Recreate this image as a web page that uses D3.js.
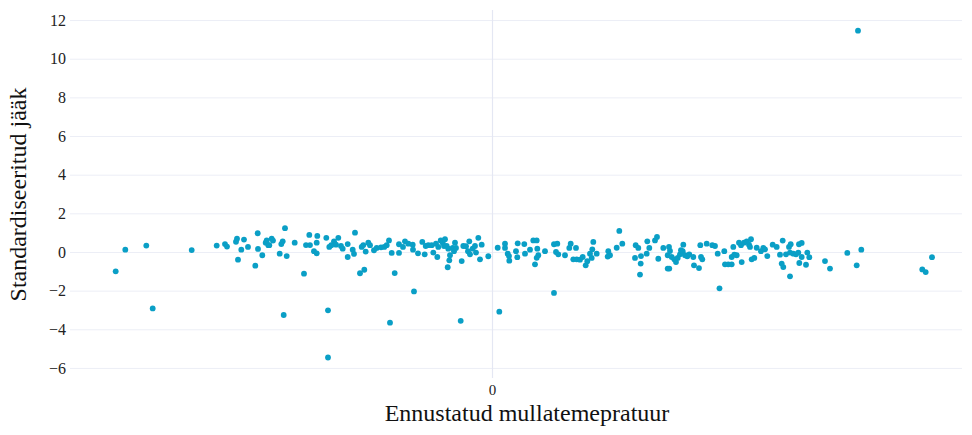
<!DOCTYPE html>
<html>
<head>
<meta charset="utf-8">
<script src="https://cdn.jsdelivr.net/npm/d3@7"></script>
<style>
  html, body { margin: 0; padding: 0; background: #fff; }
  svg { display: block; }
</style>
</head>
<body>
<svg id="chart" width="972" height="435"></svg>
<script>
// Predicted soil temperature (fitted values)
const predicted = [
  -3.763, -3.667, -3.457, -3.393, -3.003, -2.753, -2.670, -2.650, -2.560, -2.550,
  -2.480, -2.507, -2.440, -2.540, -2.343, -2.340, -2.297, -2.367, -2.263, -2.237,
  -2.253, -2.227, -2.203, -2.190, -2.070, -2.093, -2.107, -2.123, -2.053, -1.973,
  -1.880, -1.827, -1.860, -1.820, -1.747, -1.753, -1.780, -1.753, -1.657, -1.627,
  -1.607, -1.580, -1.537, -1.560, -1.510, -1.493, -1.443, -1.443, -1.393, -1.380,
  -1.370, -1.320, -1.277, -1.303, -1.287, -1.263, -1.237, -1.220, -1.180, -1.153,
  -1.110, -1.077, -1.053, -1.030, -1.003, -0.973, -0.930, -0.930, -0.890, -0.870,
  -0.837, -0.793, -0.790, -0.740, -0.697, -0.673, -0.663, -0.637,
  -2.083, -1.640, -1.640, -1.020, -0.780, -0.313, 0.073,
  -0.603, -0.587, -0.560, -0.547, -0.537, -0.513, -0.493, -0.470, -0.480, -0.453,
  -0.437, -0.420, -0.427, -0.443, -0.393, -0.380, -0.360, -0.370, -0.303, -0.287,
  -0.260, -0.227, -0.240, -0.220, -0.193, -0.170, -0.160, -0.137, -0.103, -0.120,
  -0.037, 0.057, 0.130, 0.130, 0.157, 0.170, 0.173, 0.240, 0.253, 0.257,
  0.323, 0.330, 0.380, 0.413, 0.447, 0.430, 0.453, 0.463, 0.447, 0.530,
  0.620, 0.653, 0.640, 0.663, 0.730, 0.773, 0.787, 0.813, 0.840, 0.847,
  0.880, 0.907, 0.937, 0.953, 0.980, 0.997, 1.003, 1.013, 0.620,
  1.047, 1.163, 1.180, 1.157, 1.247, 1.273, 1.303, 1.437, 1.463, 1.430,
  1.490, 1.487, 1.480, 1.547, 1.553, 1.573, 1.630, 1.650, 1.663, 1.713,
  1.757, 1.773, 1.757, 1.770, 1.780, 1.797, 1.823, 1.840, 1.857, 1.880,
  1.890, 1.907, 1.913, 1.930, 1.953, 1.973, 2.013, 2.020, 2.070, 2.083,
  2.090, 2.103, 2.147, 2.203, 2.230, 2.257, 2.275, 2.323, 2.330, 2.363,
  2.397, 2.397, 2.413, 2.423, 2.447, 2.470, 2.490, 2.497, 2.520, 2.547,
  2.570, 2.590, 2.580, 2.597, 2.623, 2.647, 2.690, 2.713,
  2.730, 2.753, 2.807, 2.847, 2.907, 2.880, 2.897, 2.913, 2.940, 2.970,
  2.987, 2.980, 2.980, 3.013, 3.040, 3.063, 3.070, 3.097, 3.097, 3.073,
  3.140, 3.153, 3.173, 3.330, 3.380, 3.553, 3.647, 3.693, 3.660,
  4.303, 4.337, 4.400
];

// Standardised residuals, same order as predicted
const residual = [
  -1.00, 0.12, 0.33, -2.92, 0.10, 0.33, 0.41, 0.28, 0.53, 0.69,
  0.64, 0.12, 0.26, -0.40, 0.97, 0.16, -0.17, -0.71, 0.48, 0.35,
  0.60, 0.35, 0.69, 0.59, 1.23, 0.55, 0.41, -0.09, -0.21, 0.48,
  -1.12, 0.88, 0.36, 0.36, 0.83, 0.48, 0.04, -0.07, 0.73, 0.26,
  0.35, 0.55, 0.73, 0.38, 0.31, 0.17, 0.41, -0.26, 0.12, -0.10,
  1.00, -1.10, -0.92, 0.26, 0.36, 0.02, 0.48, 0.35, 0.09, 0.21,
  0.24, 0.26, 0.35, 0.60, -0.05, -1.09, 0.40, -0.05, 0.26, 0.55,
  0.43, 0.38, 0.12, -0.07, 0.52, -0.12, 0.31, 0.35,
  -3.26, -3.02, -5.46, -3.66, -2.04, -3.56, -3.09,
  0.35, -0.03, 0.43, -0.26, 0.26, 0.60, 0.48, 0.66, 0.31, 0.31,
  0.17, -0.17, -0.43, -0.79, 0.21, 0.04, 0.21, 0.48, -0.47, 0.31,
  0.30, 0.55, 0.04, -0.12, 0.17, 0.31, -0.03, 0.73, 0.38, -0.38,
  -0.22, 0.22, 0.43, 0.21, -0.09, -0.21, -0.45, 0.04, -0.27, 0.45,
  0.41, -0.09, 0.12, 0.60, 0.60, -0.64, 0.17, -0.17, -0.30, 0.04,
  0.40, 0.43, 0.00, -0.12, -0.17, 0.21, 0.43, -0.38, 0.21, -0.38,
  -0.40, -0.26, -0.69, -0.48, -0.09, -0.31, 0.14, 0.52, -2.12,
  -0.09, 0.04, -0.17, -0.24, 0.22, 1.09, 0.43, 0.35, 0.21, -0.31,
  -0.21, -0.60, -1.17, -0.09, 0.55, 0.21, 0.60, 0.78, -0.35, 0.21,
  -0.86, -0.86, -0.17, 0.26, 0.05, -0.26, -0.38, -0.52, -0.31, -0.12,
  0.09, 0.04, 0.38, -0.17, -0.22, -0.12, -0.26, -0.69, -0.83, 0.35,
  -0.26, -0.38, 0.43, 0.35, 0.31, -0.09, -1.88, 0.04, -0.64, -0.64,
  -0.26, -0.64, 0.26, -0.14, -0.17, 0.48, 0.35, -0.52, 0.48, 0.55,
  0.38, 0.66, 0.26, -0.38, -0.31, 0.22, 0.04, 0.21,
  0.14, -0.21, 0.38, 0.26, 0.59, -0.14, -0.60, -0.78, -0.12, 0.26,
  0.40, -0.03, -1.26, -0.09, -0.12, -0.03, 0.40, 0.47, -0.26, -0.57,
  -0.66, -0.03, -0.27, -0.47, -0.86, -0.05, -0.69, 0.12, 11.45,
  -0.90, -1.04, -0.27
];

const xTicks = [0];
const yTicks = [-6, -4, -2, 0, 2, 4, 6, 8, 10, 12];
const xTitle = "Ennustatud mullatemepratuur";
const yTitle = "Standardiseeritud jääk";

const serif = "'Liberation Serif', 'Times New Roman', serif";
const svg = d3.select("#chart");
const plot = { left: 70, right: 962, top: 10, bottom: 378 };

const x = d3.scaleLinear().domain([-4.22, 4.70]).range([plot.left, plot.right]);
const y = d3.scaleLinear().domain([-6.52, 12.52]).range([plot.bottom, plot.top]);

// Horizontal gridlines with tick labels
const yAxis = d3.axisLeft(y).tickValues(yTicks).tickSize(-(plot.right - plot.left))
  .tickPadding(4).tickFormat(d => d < 0 ? "\u2212" + Math.abs(d) : d);
const gy = svg.append("g").attr("transform", `translate(${plot.left},0)`).call(yAxis);
gy.attr("font-family", serif);
gy.select(".domain").remove();
gy.selectAll(".tick line").attr("stroke", "#eceef6").attr("stroke-width", 1);
gy.selectAll(".tick text").attr("font-size", 16).attr("fill", "#222")
  .attr("font-family", serif);

// Vertical zero line and x tick label
const xAxis = d3.axisBottom(x).tickValues(xTicks).tickSize(-(plot.bottom - plot.top))
  .tickPadding(6).tickFormat(d3.format("d"));
const gx = svg.append("g").attr("transform", `translate(0,${plot.bottom})`).call(xAxis);
gx.attr("font-family", serif);
gx.select(".domain").remove();
gx.selectAll(".tick line").attr("stroke", "#e4e7f3").attr("stroke-width", 1.2);
gx.selectAll(".tick text").attr("font-size", 15).attr("fill", "#222")
  .attr("font-family", serif);

// Residual points
svg.append("g").selectAll("circle")
  .data(predicted.map((p, i) => [p, residual[i]]))
  .join("circle")
  .attr("cx", d => x(d[0]))
  .attr("cy", d => y(d[1]))
  .attr("r", 2.9)
  .attr("fill", "#0a9fc6");

// Axis titles
svg.append("text")
  .attr("x", 527).attr("y", 421)
  .attr("text-anchor", "middle")
  .attr("font-family", serif)
  .attr("font-size", 24)
  .attr("fill", "#111")
  .text(xTitle);

svg.append("text")
  .attr("transform", "translate(26,194.5) rotate(-90)")
  .attr("text-anchor", "middle")
  .attr("font-family", serif)
  .attr("font-size", 24)
  .attr("fill", "#111")
  .text(yTitle);
</script>
</body>
</html>
